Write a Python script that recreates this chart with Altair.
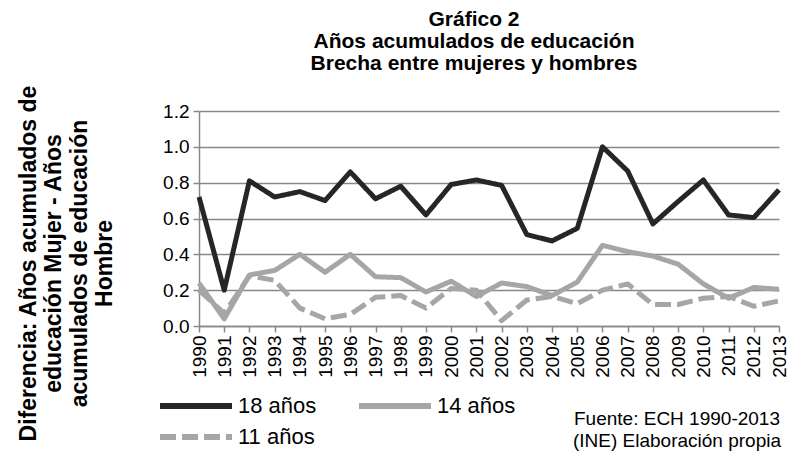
import altair as alt
import pandas as pd

years = list(range(1990, 2014))
serie_18 = [0.72, 0.20, 0.81, 0.72, 0.75, 0.70, 0.86, 0.71, 0.78, 0.62, 0.79, 0.815,
            0.785, 0.51, 0.475, 0.545, 1.00, 0.865, 0.57, 0.695, 0.815, 0.62, 0.605, 0.76]
serie_14 = [0.24, 0.04, 0.285, 0.31, 0.40, 0.30, 0.40, 0.275, 0.27, 0.19, 0.25, 0.165,
            0.24, 0.22, 0.17, 0.245, 0.45, 0.415, 0.39, 0.345, 0.235, 0.155, 0.215, 0.205]
serie_11 = [0.20, 0.07, 0.28, 0.255, 0.10, 0.04, 0.065, 0.16, 0.17, 0.10, 0.21, 0.20,
            0.03, 0.145, 0.165, 0.125, 0.20, 0.235, 0.12, 0.12, 0.155, 0.165, 0.11, 0.14]
series_names = ["18 años", "14 años", "11 años"]
series_colors = ["#262626", "#a6a6a6", "#a6a6a6"]
series_dash = [[1, 0], [1, 0], [16, 6]]
y_ticks = [0.0, 0.2, 0.4, 0.6, 0.8, 1.0, 1.2]
title_lines = ["Gráfico 2", "Años acumulados de educación", "Brecha entre mujeres y hombres"]
y_title = ["Diferencia: Años acumulados de", "educación Mujer - Años",
           "acumulados de educación", "Hombre"]
source_text = ["Fuente: ECH 1990-2013", "(INE) Elaboración propia"]

rows = []
for name, vals in zip(series_names, [serie_18, serie_14, serie_11]):
    for yr, v in zip(years, vals):
        rows.append({"Año": str(yr), "Serie": name, "Valor": v})
df = pd.DataFrame(rows)

FONT = "Liberation Sans"

lines = alt.Chart(df).mark_line(strokeWidth=5, strokeJoin="round").encode(
    x=alt.X("Año:O", title=None,
            scale=alt.Scale(type="point", padding=0),
            axis=alt.Axis(labelAngle=-90, labelFontSize=19, labelFont=FONT,
                          labelColor="#000000", labelPadding=3,
                          tickSize=6, tickColor="#888888", tickWidth=1.5,
                          domainColor="#888888", domainWidth=1.5, grid=False)),
    y=alt.Y("Valor:Q", title=y_title,
            scale=alt.Scale(domain=[0, 1.2], nice=False),
            axis=alt.Axis(values=y_ticks, format=".1f", labelFontSize=19,
                          labelFont=FONT, labelColor="#000000", labelPadding=4,
                          tickSize=6, tickColor="#888888", tickWidth=1.5,
                          domainColor="#888888", domainWidth=1.5,
                          gridColor="#888888", gridWidth=1.5,
                          titleFont=FONT, titleFontSize=23, titleFontWeight="bold",
                          titleColor="#000000", titleLineHeight=25.5,
                          titleAngle=-90, titleAlign="center", titleBaseline="top",
                          titleX=-182, titleY=152)),
    color=alt.Color("Serie:N", title=None,
                    scale=alt.Scale(domain=series_names, range=series_colors),
                    legend=alt.Legend(orient="none", legendX=-18, legendY=280,
                                      columns=2, direction="horizontal",
                                      symbolType="M-3,0H3", symbolSize=576,
                                      symbolStrokeWidth=6,
                                      labelFontSize=22, labelFont=FONT,
                                      labelColor="#000000", labelOffset=27,
                                      columnPadding=30, rowPadding=4)),
    strokeDash=alt.StrokeDash("Serie:N", title=None,
                              scale=alt.Scale(domain=series_names, range=series_dash)),
    order=alt.Order("Año:O"),
)

src = alt.Chart(pd.DataFrame({"t": ["\n".join(source_text)]})).mark_text(
    font=FONT, fontSize=19, color="#000000", align="center", baseline="middle",
    lineBreak="\n", lineHeight=22
).encode(text="t:N", x=alt.value(478), y=alt.value(308))

chart = alt.layer(lines, src).properties(
    width=580, height=215,
    autosize=alt.AutoSizeParams(type="none"),
    padding={"left": 191, "top": 103, "right": 10, "bottom": 125},
    title=alt.Title(text=title_lines, font=FONT, fontSize=21, fontWeight="bold",
                    lineHeight=22, anchor="middle", dx=-15, dy=-7, color="#000000"),
).configure_view(stroke=None)

chart.save("out.html", embed_options={"renderer": "svg", "actions": False})
